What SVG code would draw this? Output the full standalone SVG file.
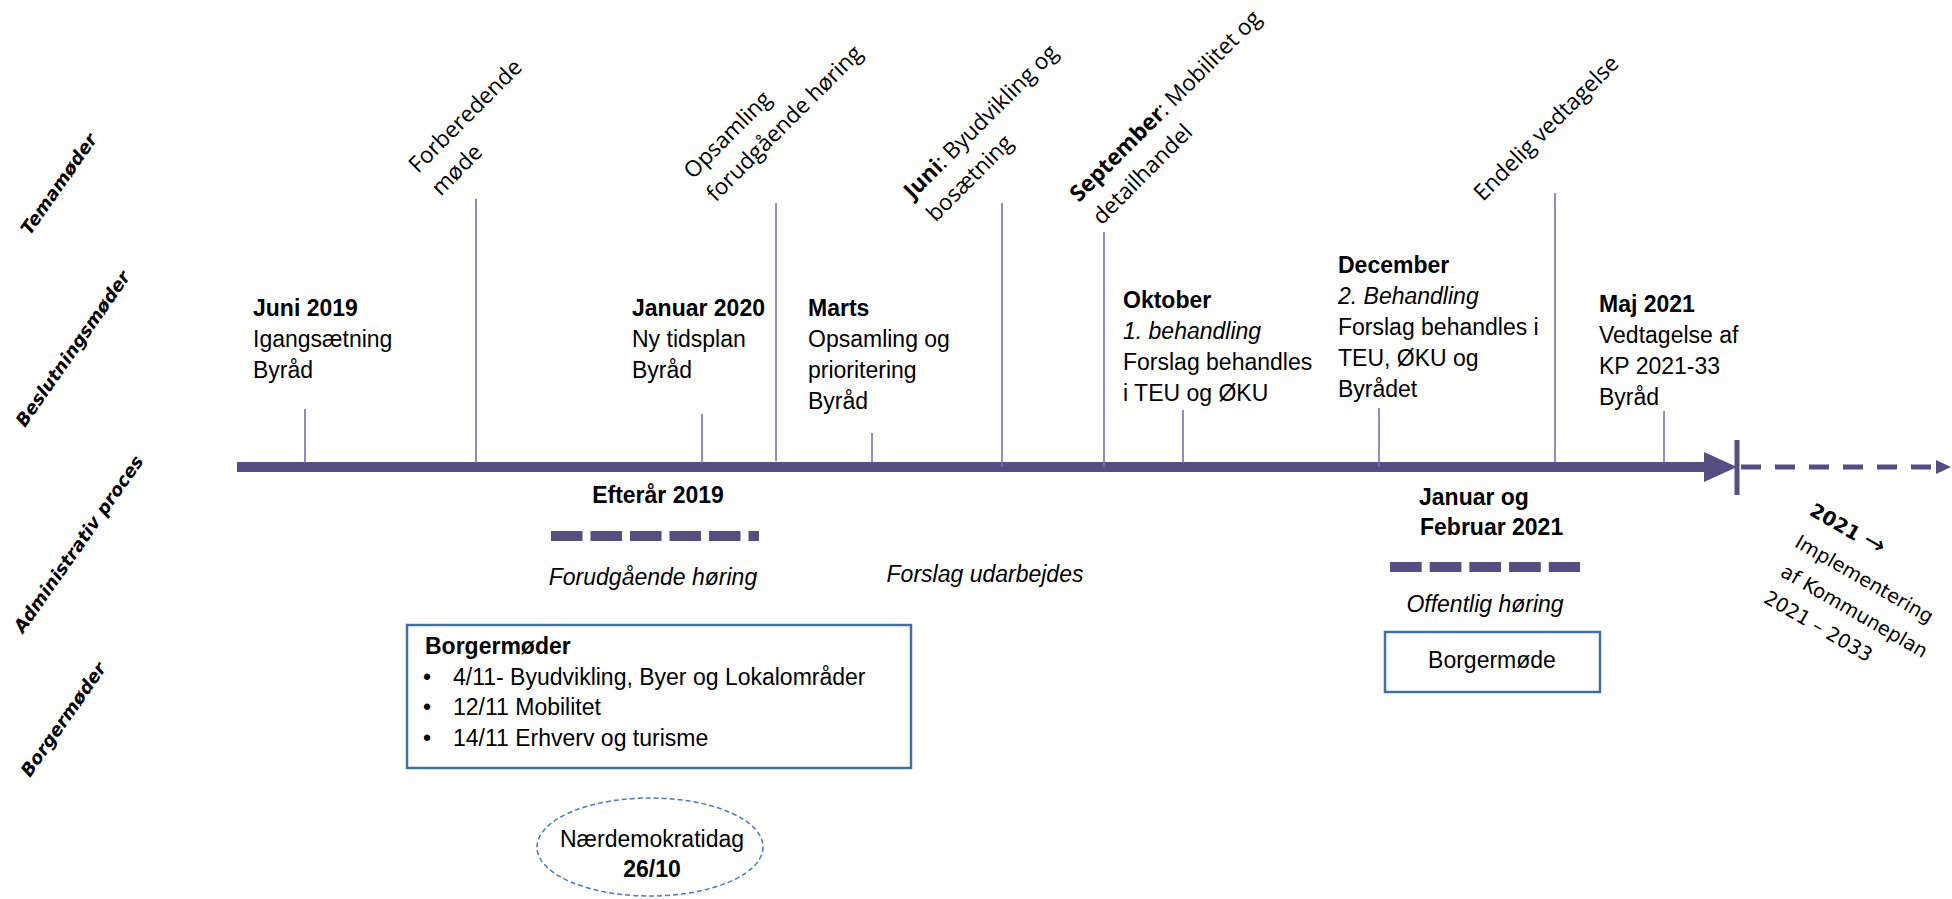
<svg xmlns="http://www.w3.org/2000/svg" width="1952" height="899" viewBox="0 0 1952 899">
<style>
  .t { font-family: "Liberation Sans", Arial, sans-serif; font-size: 23px; fill: #000; }
  .b { font-weight: bold; }
  .i { font-style: italic; }
  .rot { font-family: "Open Sans", "DejaVu Sans", sans-serif; font-size: 22.5px; fill: #000; }
  .lane { font-family: "DejaVu Sans", Verdana, sans-serif; font-size: 18px; font-weight: bold; font-style: oblique; fill: #000; }
  .impl { font-family: "DejaVu Sans", Verdana, sans-serif; font-size: 19.5px; fill: #000; }
  .tick { stroke: #7D6BB8; stroke-width: 1.6; fill: none; }
  .axis { stroke: #564E80; fill: none; }
  .box { fill: #fff; stroke: #41719C; stroke-width: 2.5; }
</style>
<rect width="1952" height="899" fill="#fff"/>

<g id="lane-labels">
  <text class="lane" transform="translate(30,236) rotate(-55)">Temamøder</text>
  <text class="lane" transform="translate(25,428) rotate(-55)">Beslutningsmøder</text>
  <text class="lane" transform="translate(23,634) rotate(-55)">Administrativ proces</text>
  <text class="lane" transform="translate(30,778) rotate(-55)">Borgermøder</text>
</g>

<g id="connectors">
  <!-- main timeline -->
  <line class="axis" x1="237" y1="467" x2="1708" y2="467" stroke-width="10"/>
  <polygon points="1704,452 1737,467 1704,482" fill="#564E80"/>
  <line class="axis" x1="1737" y1="440" x2="1737" y2="495" stroke-width="5"/>
  <line class="axis" x1="1741" y1="467" x2="1937" y2="467" stroke-width="5" stroke-dasharray="20 14"/>
  <polygon points="1936,460 1951,467 1936,474" fill="#564E80"/>
  <!-- ticks -->
  <line class="tick" x1="305" y1="409" x2="305" y2="463"/>
  <line class="tick" x1="476" y1="199" x2="476" y2="463"/>
  <line class="tick" x1="702" y1="414" x2="702" y2="463"/>
  <line class="tick" x1="776" y1="203" x2="776" y2="461"/>
  <line class="tick" x1="872" y1="433" x2="872" y2="463"/>
  <line class="tick" x1="1002" y1="203" x2="1002" y2="467"/>
  <line class="tick" x1="1104" y1="232" x2="1104" y2="467"/>
  <line class="tick" x1="1183" y1="410" x2="1183" y2="463"/>
  <line class="tick" x1="1379" y1="408" x2="1379" y2="467"/>
  <line class="tick" x1="1555" y1="193" x2="1555" y2="463"/>
  <line class="tick" x1="1664" y1="411" x2="1664" y2="463"/>
  <!-- period bars -->
  <line class="axis" x1="551" y1="536" x2="759" y2="536" stroke-width="10" stroke-dasharray="31.5 8"/>
  <line class="axis" x1="1390" y1="567" x2="1580" y2="567" stroke-width="10" stroke-dasharray="31.7 8"/>
</g>

<g id="tema-forberedende">
  <text class="rot" transform="translate(418,174) rotate(-45)"><tspan x="0" y="0">Forberedende</tspan><tspan x="0" y="32">møde</tspan></text>
</g>
<g id="tema-opsamling">
  <text class="rot" transform="translate(693,180) rotate(-45)"><tspan x="0" y="0">Opsamling</tspan><tspan x="0" y="32">forudgående høring</tspan></text>
</g>
<g id="tema-juni">
  <text class="rot" transform="translate(913,200) rotate(-45)"><tspan x="0" y="0"><tspan font-weight="bold">Juni</tspan>: Byudvikling og</tspan><tspan x="0" y="32">bosætning</tspan></text>
</g>
<g id="tema-september">
  <text class="rot" transform="translate(1079,203) rotate(-45)"><tspan x="0" y="0"><tspan font-weight="bold">September</tspan>: Mobilitet og</tspan><tspan x="0" y="32">detailhandel</tspan></text>
</g>
<g id="tema-endelig">
  <text class="rot" transform="translate(1483,202) rotate(-45)">Endelig vedtagelse</text>
</g>

<g id="b-juni2019">
  <text class="t"><tspan class="b" x="253" y="316">Juni 2019</tspan><tspan x="253" y="347">Igangsætning</tspan><tspan x="253" y="378">Byråd</tspan></text>
</g>
<g id="b-januar2020">
  <text class="t"><tspan class="b" x="632" y="316">Januar 2020</tspan><tspan x="632" y="347">Ny tidsplan</tspan><tspan x="632" y="378">Byråd</tspan></text>
</g>
<g id="b-marts">
  <text class="t"><tspan class="b" x="808" y="316">Marts</tspan><tspan x="808" y="347">Opsamling og</tspan><tspan x="808" y="378">prioritering</tspan><tspan x="808" y="409">Byråd</tspan></text>
</g>
<g id="b-oktober">
  <text class="t"><tspan class="b" x="1123" y="308">Oktober</tspan><tspan class="i" x="1123" y="339">1. behandling</tspan><tspan x="1123" y="370">Forslag behandles</tspan><tspan x="1123" y="401">i TEU og ØKU</tspan></text>
</g>
<g id="b-december">
  <text class="t"><tspan class="b" x="1338" y="273">December</tspan><tspan class="i" x="1338" y="304">2. Behandling</tspan><tspan x="1338" y="335">Forslag behandles i</tspan><tspan x="1338" y="366">TEU, ØKU og</tspan><tspan x="1338" y="397">Byrådet</tspan></text>
</g>
<g id="b-maj2021">
  <text class="t"><tspan class="b" x="1599" y="312">Maj 2021</tspan><tspan x="1599" y="343">Vedtagelse af</tspan><tspan x="1599" y="374">KP 2021-33</tspan><tspan x="1599" y="405">Byråd</tspan></text>
</g>

<g id="a-efteraar">
  <text class="t b" x="658" y="503" text-anchor="middle">Efterår 2019</text>
  <text class="t i" x="653" y="585" text-anchor="middle">Forudgående høring</text>
</g>
<g id="a-forslag">
  <text class="t i" x="985" y="582" text-anchor="middle">Forslag udarbejdes</text>
</g>
<g id="a-offentlig">
  <text class="t b"><tspan x="1419" y="505">Januar og</tspan><tspan x="1420" y="535">Februar 2021</tspan></text>
  <text class="t i" x="1485" y="612" text-anchor="middle">Offentlig høring</text>
</g>
<g id="implementering">
  <text class="impl b" transform="translate(1844,535) rotate(30)" text-anchor="middle">2021 <tspan font-size="26" font-weight="normal">→</tspan></text>
  <text class="impl" transform="translate(1861,585) rotate(30)" text-anchor="middle">Implementering</text>
  <text class="impl" transform="translate(1851,617) rotate(30)" text-anchor="middle">af Kommuneplan</text>
  <text class="impl" transform="translate(1815,632) rotate(30)" text-anchor="middle">2021 – 2033</text>
</g>

<g id="borgermoeder-box">
  <rect class="box" x="407" y="625" width="504" height="143"/>
  <text class="t b" x="425" y="654">Borgermøder</text>
  <text class="t"><tspan x="423" y="685">•</tspan><tspan x="453" y="685">4/11- Byudvikling, Byer og Lokalområder</tspan><tspan x="423" y="715">•</tspan><tspan x="453" y="715">12/11 Mobilitet</tspan><tspan x="423" y="746">•</tspan><tspan x="453" y="746">14/11 Erhverv og turisme</tspan></text>
</g>
<g id="naerdemokratidag">
  <ellipse cx="650" cy="847" rx="113" ry="49" fill="#fff" stroke="#4A78C4" stroke-width="1.5" stroke-dasharray="5 3"/>
  <text class="t" x="652" y="847" text-anchor="middle">Nærdemokratidag</text>
  <text class="t b" x="652" y="877" text-anchor="middle">26/10</text>
</g>
<g id="borgermoede-box">
  <rect class="box" x="1385" y="632" width="215" height="60"/>
  <text class="t" x="1492" y="668" text-anchor="middle">Borgermøde</text>
</g>
</svg>
